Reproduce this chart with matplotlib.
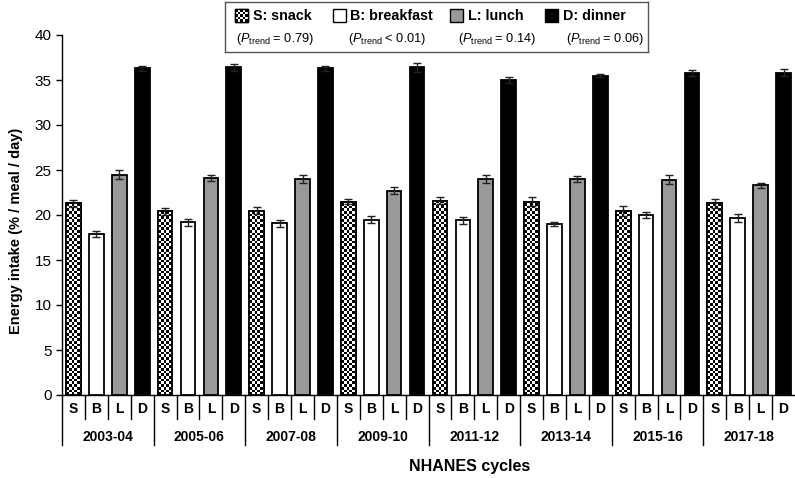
import numpy as np
import matplotlib
matplotlib.use('Agg')
import matplotlib.pyplot as plt
from matplotlib.patches import Rectangle

plt.rcParams['font.family'] = ['Liberation Sans', 'DejaVu Sans']
plt.rcParams['mathtext.fontset'] = 'custom'
plt.rcParams['mathtext.rm'] = 'Liberation Sans'
plt.rcParams['mathtext.it'] = 'Liberation Sans:italic'

# Data
cycles = ['2003-04', '2005-06', '2007-08', '2009-10', '2011-12', '2013-14', '2015-16', '2017-18']
meals = ['S', 'B', 'L', 'D']
meal_names = ['S: snack', 'B: breakfast', 'L: lunch', 'D: dinner']
p_trend = ['= 0.79', '< 0.01', '= 0.14', '= 0.06']
snack = [21.3, 20.4, 20.5, 21.5, 21.6, 21.5, 20.4, 21.3]
breakfast = [17.9, 19.2, 19.1, 19.5, 19.4, 19.0, 20.0, 19.7]
lunch = [24.5, 24.1, 24.0, 22.7, 24.0, 24.0, 23.9, 23.3]
dinner = [36.3, 36.4, 36.3, 36.4, 35.0, 35.5, 35.8, 35.8]
snack_err = [0.4, 0.4, 0.35, 0.3, 0.4, 0.45, 0.55, 0.5]
breakfast_err = [0.35, 0.4, 0.4, 0.35, 0.4, 0.2, 0.35, 0.45]
lunch_err = [0.45, 0.35, 0.4, 0.4, 0.45, 0.3, 0.5, 0.3]
dinner_err = [0.25, 0.4, 0.3, 0.5, 0.3, 0.2, 0.35, 0.4]

series = [snack, breakfast, lunch, dinner]
errors = [snack_err, breakfast_err, lunch_err, dinner_err]
colors = ['white', 'white', '#999999', 'black']

fig = plt.figure(figsize=(7.95, 4.78), dpi=100)
ax = fig.add_axes([62 / 795, 83 / 478, 733 / 795, 360 / 478])
ax.set_xlim(-0.5, 31.5)
ax.set_ylim(0, 40)

width = 0.64
px_x = 733 / 32.0   # pixels per category
px_y = 360 / 40.0   # pixels per unit
sq = 2.7            # checker square in pixels


def checker_fill(axis, x0, y0, w, h, patch, sx, sy):
    nx = int(np.ceil(w / sx)) + 1
    ny = int(np.ceil(h / sy)) + 1
    board = (np.add.outer(np.arange(ny), np.arange(nx)) % 2).astype(float)
    im = axis.imshow(board, cmap='gray', vmin=0, vmax=1, interpolation='nearest',
                     origin='lower', aspect='auto',
                     extent=(x0, x0 + nx * sx, y0, y0 + ny * sy), zorder=2)
    im.set_clip_path(patch)


for m in range(4):
    xs = np.arange(len(cycles)) * 4 + m
    bars = ax.bar(xs, series[m], width=width, color=colors[m], edgecolor='black',
                  linewidth=1.3, zorder=3 if m else 1)
    if m == 0:
        for b in bars:
            checker_fill(ax, b.get_x(), 0, b.get_width(), b.get_height(), b,
                         sq / px_x, sq / px_y)
            ax.add_patch(Rectangle((b.get_x(), 0), b.get_width(), b.get_height(),
                                   fill=False, edgecolor='black', linewidth=1.3, zorder=3))
    ax.errorbar(xs, series[m], yerr=errors[m], fmt='none', ecolor='#222222',
                elinewidth=1, capsize=3, capthick=1, zorder=4)

ax.set_xlim(-0.5, 31.5)
ax.set_ylim(0, 40)
ax.set_yticks(range(0, 41, 5))
ax.tick_params(axis='y', labelsize=11, direction='out', length=4, width=1)
ax.set_xticks([])
for s in ['top', 'right']:
    ax.spines[s].set_visible(False)
ax.spines['left'].set_linewidth(1)
ax.spines['bottom'].set_linewidth(1)
ax.set_ylabel('Energy intake (% / meal / day)', fontsize=10.5, fontweight='bold')
ax.yaxis.set_label_coords(-0.053, 0.455)

# category / group axis below the bars
trans = ax.get_xaxis_transform()
for i in range(32):
    x = i - 0.5
    if i % 4 == 0:
        ax.plot([x, x], [0, -0.14], color='black', lw=1, transform=trans, clip_on=False)
    else:
        ax.plot([x, x], [0, -0.068], color='black', lw=1, transform=trans, clip_on=False)
    ax.text(i, -0.04, meals[i % 4], transform=trans, ha='center', va='center',
            fontsize=10, fontweight='bold')
for g, c in enumerate(cycles):
    ax.text(g * 4 + 1.5, -0.117, c, transform=trans, ha='center', va='center',
            fontsize=10, fontweight='bold')
fig.text(470 / 795, 1 - 466 / 478, 'NHANES cycles', ha='center', va='center',
         fontsize=11.5, fontweight='bold')

# legend box
lax = fig.add_axes([225 / 795, 1 - 52 / 478, 423 / 795, 50 / 478])
lax.set_xlim(225, 648)
lax.set_ylim(52, 2)
lax.set_xticks([])
lax.set_yticks([])
for s in lax.spines.values():
    s.set_color('#555555')
    s.set_linewidth(1)
patch_x = [235, 333, 450, 545]
text_x = [253, 350, 468, 563]
ptxt_x = [236, 348, 458, 566]
for m in range(4):
    r = Rectangle((patch_x[m], 9), 13, 13, facecolor=colors[m], edgecolor='black',
                  linewidth=1, zorder=3 if m else 1)
    lax.add_patch(r)
    if m == 0:
        board = (np.add.outer(np.arange(5), np.arange(5)) % 2).astype(float)
        im = lax.imshow(board, cmap='gray', vmin=0, vmax=1, interpolation='nearest',
                        aspect='auto', extent=(patch_x[m], patch_x[m] + 13, 22, 9), zorder=2)
        im.set_clip_path(r)
        lax.add_patch(Rectangle((patch_x[m], 9), 13, 13, fill=False, edgecolor='black',
                                linewidth=1, zorder=3))
    lax.text(text_x[m], 16, meal_names[m], ha='left', va='center', fontsize=10.3,
             fontweight='bold')
    lax.text(ptxt_x[m], 39, r'($P_{\mathrm{trend}}$ ' + p_trend[m] + ')', ha='left',
             va='center', fontsize=9.2)
lax.set_xlim(225, 648)
lax.set_ylim(52, 2)

fig.savefig('out.png', dpi=100)
